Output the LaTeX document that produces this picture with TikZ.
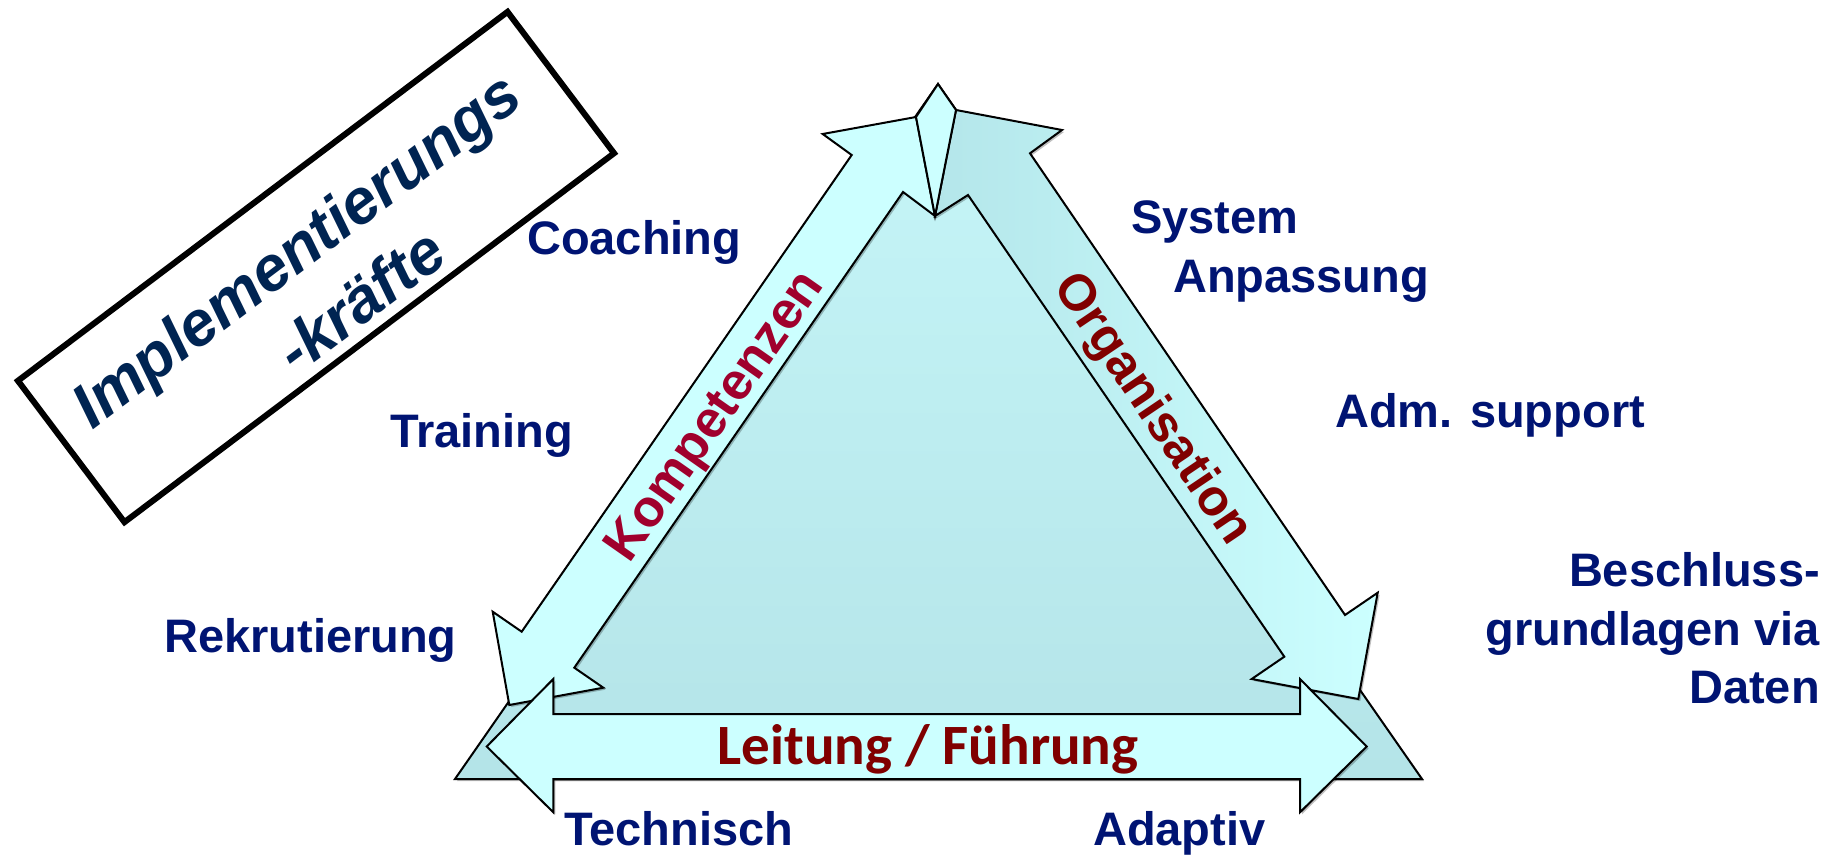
\documentclass[tikz,border=0pt]{standalone}
\usepackage{fontspec}
\setmainfont{Liberation Sans}
\newfontfamily\calib{Carlito}
\usetikzlibrary{shadows}
\definecolor{navy}{RGB}{0,20,115}
\definecolor{boxnavy}{RGB}{0,36,82}
\definecolor{crim}{RGB}{160,0,45}
\definecolor{dred}{RGB}{128,0,0}
\definecolor{alight}{RGB}{204,255,255}
\definecolor{adark}{RGB}{180,230,234}
\definecolor{ttop}{RGB}{198,246,248}
\definecolor{tbot}{RGB}{180,228,232}
\begin{document}
\begin{tikzpicture}[x=1pt,y=-1pt,
  outl/.style={draw=black, line width=2pt, line join=miter},
  sh/.style={drop shadow={shadow xshift=2pt, shadow yshift=-2pt, opacity=0.25, fill=black}},
  lab/.style={font=\fontsize{47}{54}\selectfont\bfseries, text=navy, inner sep=0pt},
  side/.style={inner sep=0pt, text depth=0pt},
  ttl/.style={rotate=37, inner sep=0pt, text=boxnavy, font=\fontsize{63}{70}\selectfont\bfseries\itshape}
]
\useasboundingbox (0,0) rectangle (1836,859);

% background triangle
\path[outl, sh, top color=ttop, bottom color=tbot]
  (455,779) -- (938,84) -- (1422,779) -- cycle;

% left arrow (Kompetenzen)
\path[outl, sh, fill=alight]
  (851.7,155) -- (822.7,134) -- (916,117) -- (935,216) -- (903,192)
  -- (574.3,667.7) -- (603.3,687.7) -- (509.3,705) -- (492.7,611.7)
  -- (521.7,631.7) -- cycle;

% right arrow (Organisation)
\path[outl, sh, left color=adark, right color=alight]
  (1030,153.3) -- (1062,130) -- (956,110) -- (935,216) -- (968,195)
  -- (1284.3,656.7) -- (1251.7,679) -- (1358.3,699) -- (1377.7,592.7)
  -- (1345,615) -- cycle;

% apex of the triangle between the heads
\path[outl, fill=alight] (916,117) -- (938,84) -- (956,110) -- (935,216) -- cycle;

% bottom arrow (Leitung / Fuehrung)
\path[outl, sh, fill=alight]
  (553.3,714) -- (1300,714) -- (1300,679) -- (1366.7,746.5) -- (1300,812.3)
  -- (1300,779) -- (553.3,779) -- (553.3,812.3) -- (486.7,746.5)
  -- (553.3,679) -- cycle;

% arrow labels
\node[side, text=crim, rotate=55, text height=37.5pt, font=\fontsize{52}{58}\selectfont\bfseries] (komp) at (712,414) {Kompetenzen};
\node[side, text=dred, rotate=-56, text height=37pt, font=\fontsize{51}{58}\selectfont\bfseries] (orga) at (1156,407) {Organisation};
\node[side, text=dred, text height=36.7pt, font=\calib\fontsize{57}{62}\selectfont\bfseries] (leit) at (928,746.5) {Leitung / Führung};

% title box
\node[draw=black, line width=6pt, fill=white, minimum width=613pt, minimum height=177pt, rotate=37, inner sep=0pt] (box) at (316,267) {};
\node[ttl] (title1) at (299,254) {Implementierungs};
\node[ttl] (title2) at (360,300) {-kräfte};

% outer labels
\node[lab, anchor=base west] (coach) at (527,254) {Coaching};
\node[lab, anchor=base west] (train) at (390,447) {Training};
\node[lab, anchor=base west] (rekr) at (164,652) {Rekrutierung};
\node[lab, anchor=base west] (sys) at (1131,233) {System};
\node[lab, anchor=base west] (anp) at (1173,292) {Anpassung};
\node[lab, anchor=base west] (adm) at (1335,427) {Adm. support};
\node[lab, anchor=base east] (besch1) at (1820,586) {Beschluss-};
\node[lab, anchor=base east] (besch2) at (1820,645) {grundlagen via};
\node[lab, anchor=base east] (besch3) at (1820,703) {Daten};
\node[lab, anchor=base west] (tech) at (564,845) {Technisch};
\node[lab, anchor=base west] (adap) at (1093,845) {Adaptiv};
\end{tikzpicture}
\end{document}
